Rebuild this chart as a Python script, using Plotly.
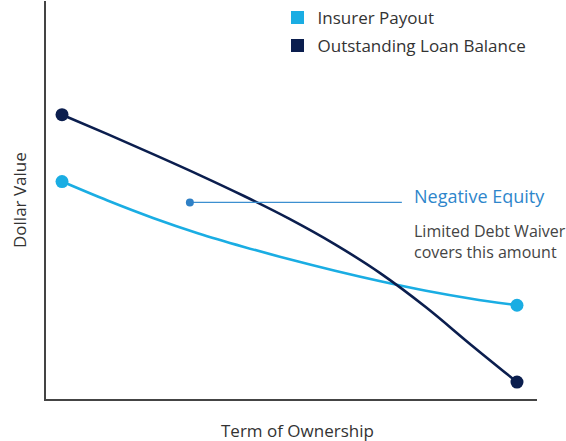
import plotly.graph_objects as go

# ---- data ----
term = [0, 1, 2, 3, 4, 5, 6, 7, 8, 9, 10]
insurer_payout = [54.64, 49.87, 45.49, 41.60, 38.22, 35.09, 32.21, 29.57, 27.19, 25.19, 23.56]
loan_balance = [71.43, 66.54, 61.53, 56.39, 51.00, 45.24, 38.85, 31.58, 23.06, 13.53, 4.26]
gap_x = [2.81, 7.47]
gap_y = [49.4, 49.4]
series_names = ["Insurer Payout", "Outstanding Loan Balance"]

LIGHT = "#1AADE3"
DARK = "#0B1E4E"
MID = "#2E86CB"
FONT = "Open Sans, Noto Sans, sans-serif"

fig = go.Figure()

fig.add_trace(go.Scatter(
    x=term, y=insurer_payout, mode="lines", line=dict(color=LIGHT, width=2.6, shape="spline"),
    showlegend=False, hoverinfo="skip"))
fig.add_trace(go.Scatter(
    x=term, y=loan_balance, mode="lines", line=dict(color=DARK, width=2.6, shape="spline"),
    showlegend=False, hoverinfo="skip"))
# endpoint markers
fig.add_trace(go.Scatter(
    x=[term[0], term[-1]], y=[insurer_payout[0], insurer_payout[-1]], mode="markers",
    marker=dict(color=LIGHT, size=13), showlegend=False))
fig.add_trace(go.Scatter(
    x=[term[0], term[-1]], y=[loan_balance[0], loan_balance[-1]], mode="markers",
    marker=dict(color=DARK, size=13), showlegend=False))
# negative equity callout
fig.add_trace(go.Scatter(
    x=gap_x, y=gap_y, mode="lines", line=dict(color="#3C8FD0", width=1.3), showlegend=False))
fig.add_trace(go.Scatter(
    x=gap_x[:1], y=gap_y[:1], mode="markers", marker=dict(color="#2F80C6", size=8), showlegend=False))

# legend entries (one legend per row for exact spacing)
for name, col, lg in zip(series_names, [LIGHT, DARK], ["legend", "legend2"]):
    fig.add_trace(go.Scatter(
        x=[None], y=[None], mode="markers", name=name, legend=lg,
        marker=dict(color=col, size=13, symbol="square")))

leg_common = dict(xanchor="left", yanchor="middle", bgcolor="rgba(0,0,0,0)",
                  font=dict(family=FONT, size=17, color="#333333"))

fig.update_layout(
    width=566, height=441,
    margin=dict(l=46, r=29, t=0, b=42),
    paper_bgcolor="white", plot_bgcolor="white",
    font=dict(family=FONT, size=16, color="#333333"),
    xaxis=dict(range=[-0.352, 10.44], showgrid=False, zeroline=False, showticklabels=False,
               ticks="", showline=True, linecolor="#444444", linewidth=1.6, fixedrange=True),
    yaxis=dict(range=[0, 100], showgrid=False, zeroline=False, showticklabels=False,
               ticks="", showline=True, linecolor="#444444", linewidth=1.6, fixedrange=True),
    legend=dict(x=0.4715, y=0.957, **leg_common),
    legend2=dict(x=0.4715, y=0.885, **leg_common),
    annotations=[
        dict(text="Dollar Value", xref="paper", yref="paper", x=-0.055, y=0.5,
             xanchor="center", yanchor="middle", textangle=-90, showarrow=False,
             font=dict(family=FONT, size=17, color="#333333")),
        dict(text="Term of Ownership", xref="paper", yref="paper", x=0.513, y=-0.08,
             xanchor="center", yanchor="middle", showarrow=False,
             font=dict(family=FONT, size=17, color="#333333")),
        dict(text="Negative Equity", xref="paper", yref="paper", x=0.745, y=0.511,
             xanchor="left", yanchor="middle", showarrow=False,
             font=dict(family=FONT, size=18, color=MID)),
        dict(text="Limited Debt Waiver<br>covers this amount", xref="paper", yref="paper",
             x=0.745, y=0.455, xanchor="left", yanchor="top", align="left", showarrow=False,
             font=dict(family=FONT, size=16, color="#444444")),
    ],
)

fig.write_html("out.html", config={"displayModeBar": False},
               post_script="document.body.style.margin='0';")
